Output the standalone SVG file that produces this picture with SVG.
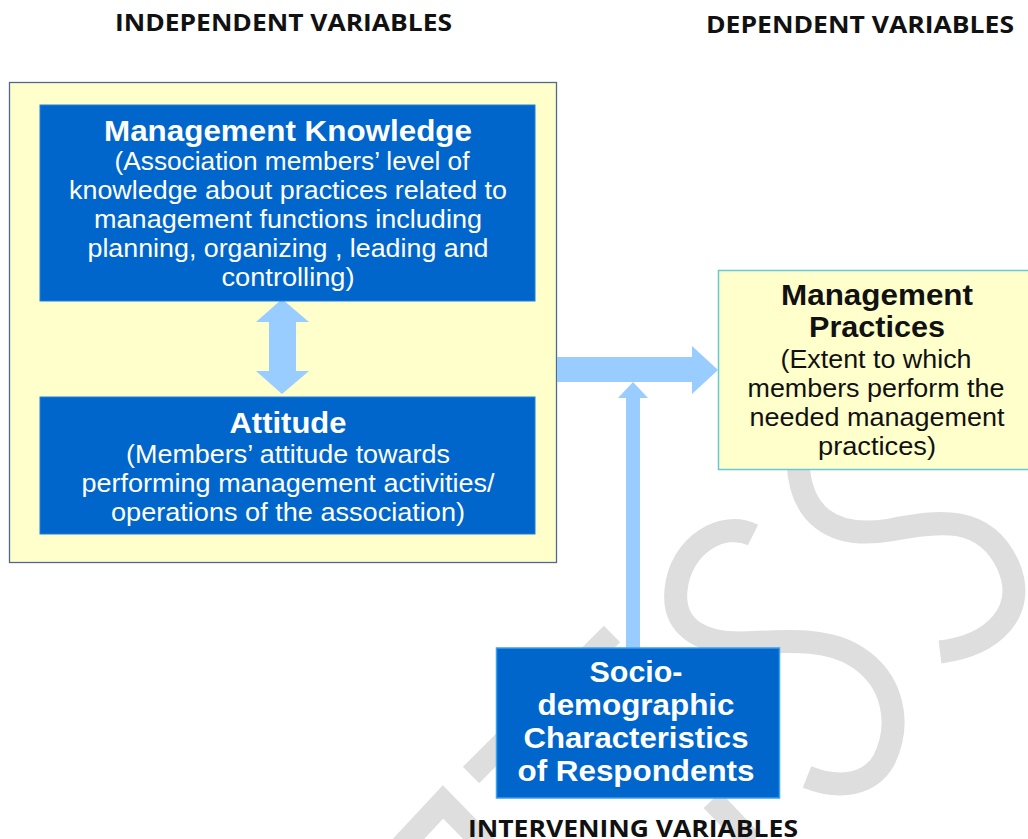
<svg xmlns="http://www.w3.org/2000/svg" width="1028" height="839" viewBox="0 0 1028 839">
<style>
.hdr{font-family:"Open Sans","Liberation Sans",sans-serif;font-weight:700;font-size:23px;fill:#111}
.bw{font-family:"Liberation Sans",Arial,sans-serif;font-weight:700;font-size:30px;fill:#fff;text-anchor:middle}
.rw{font-family:"Liberation Sans",Arial,sans-serif;font-size:26px;fill:#fff;text-anchor:middle}
.bk{font-family:"Liberation Sans",Arial,sans-serif;font-weight:700;font-size:30px;fill:#111;text-anchor:middle}
.rk{font-family:"Liberation Sans",Arial,sans-serif;font-size:26px;fill:#111;text-anchor:middle}
.blue{fill:#0066CC;stroke:#1F7FDB;stroke-width:1}
.arrow{fill:#99CCFF;stroke:none}
.wm{fill:none;stroke:#DEDEDE;stroke-width:23}
</style>
<rect width="1028" height="839" fill="#fff"/>
<g id="watermark">
<path class="wm" d="M798,462 C800,513 830,540 890,530 C940,520 985,515 1008,565 C1028,610 995,645 940,652"/>
<path class="wm" d="M753,535 C723,520 680,545 676,590 C672,630 705,643 740,643 C780,642 825,636 857,657 C893,680 902,723 884,760 C870,785 840,790 807,777"/>
<path class="wm" d="M612,634 L471,775"/>
<path class="wm" d="M400,848 L443,802 L488,848"/>
<path class="wm" d="M712,800 L752,842"/>
</g>
<g id="headers">
<text class="hdr" x="115" y="31" textLength="337" lengthAdjust="spacingAndGlyphs">INDEPENDENT  VARIABLES</text>
<text class="hdr" x="706" y="33" textLength="308" lengthAdjust="spacingAndGlyphs">DEPENDENT  VARIABLES</text>
<text class="hdr" x="468" y="837" textLength="330" lengthAdjust="spacingAndGlyphs">INTERVENING VARIABLES</text>
</g>
<g id="independent">
<rect x="9.5" y="82.5" width="547" height="480" fill="#FFFFCC" stroke="#51698F" stroke-width="1.3"/>
</g>
<g id="connectors">
<polygon class="arrow" points="282,299 309,322 296,322 296,371 309,371 282,394 256,371 269,371 269,322 256,322"/>
<polygon class="arrow" points="557,357 692,357 692,346 718,370 692,394 692,382 557,382"/>
<polygon class="arrow" points="633,382 648,398 640,398 640,648 626,648 626,398 618,398"/>
</g>
<g id="management-knowledge">
<rect class="blue" x="40" y="105" width="495" height="196"/>
<text class="bw" x="288" y="141" textLength="368" lengthAdjust="spacingAndGlyphs">Management Knowledge</text>
<text class="rw" x="292" y="170" textLength="355" lengthAdjust="spacingAndGlyphs">(Association members’ level of</text>
<text class="rw" x="288" y="199" textLength="438" lengthAdjust="spacingAndGlyphs">knowledge about practices related to</text>
<text class="rw" x="288" y="228" textLength="388" lengthAdjust="spacingAndGlyphs">management functions including</text>
<text class="rw" x="288" y="257" textLength="401" lengthAdjust="spacingAndGlyphs">planning, organizing , leading and</text>
<text class="rw" x="288" y="286" textLength="133" lengthAdjust="spacingAndGlyphs">controlling)</text>
</g>
<g id="attitude">
<rect class="blue" x="40" y="397" width="495" height="137"/>
<text class="bw" x="288" y="433" textLength="117" lengthAdjust="spacingAndGlyphs">Attitude</text>
<text class="rw" x="288" y="463" textLength="324" lengthAdjust="spacingAndGlyphs">(Members’ attitude towards</text>
<text class="rw" x="288" y="492" textLength="413" lengthAdjust="spacingAndGlyphs">performing management activities/</text>
<text class="rw" x="288" y="521" textLength="354" lengthAdjust="spacingAndGlyphs">operations of the association)</text>
</g>
<g id="management-practices">
<rect x="718.5" y="270.5" width="312" height="199" fill="#FFFFCC" stroke="#66C8D8" stroke-width="1.5"/>
<text class="bk" x="877" y="305" textLength="192" lengthAdjust="spacingAndGlyphs">Management</text>
<text class="bk" x="877" y="337" textLength="136" lengthAdjust="spacingAndGlyphs">Practices</text>
<text class="rk" x="876" y="368" textLength="191" lengthAdjust="spacingAndGlyphs">(Extent to which</text>
<text class="rk" x="876" y="397" textLength="257" lengthAdjust="spacingAndGlyphs">members perform the</text>
<text class="rk" x="877" y="426" textLength="255" lengthAdjust="spacingAndGlyphs">needed management</text>
<text class="rk" x="877" y="455" textLength="118" lengthAdjust="spacingAndGlyphs">practices)</text>
</g>
<g id="socio-demographic">
<rect x="496.5" y="648" width="283" height="150" fill="#0066CC" stroke="#3AA0F0" stroke-width="1.5"/>
<text class="bw" x="636" y="682" textLength="93" lengthAdjust="spacingAndGlyphs">Socio-</text>
<text class="bw" x="636" y="715" textLength="197" lengthAdjust="spacingAndGlyphs">demographic</text>
<text class="bw" x="636" y="748" textLength="225" lengthAdjust="spacingAndGlyphs">Characteristics</text>
<text class="bw" x="636" y="781" textLength="237" lengthAdjust="spacingAndGlyphs">of Respondents</text>
</g>
</svg>
